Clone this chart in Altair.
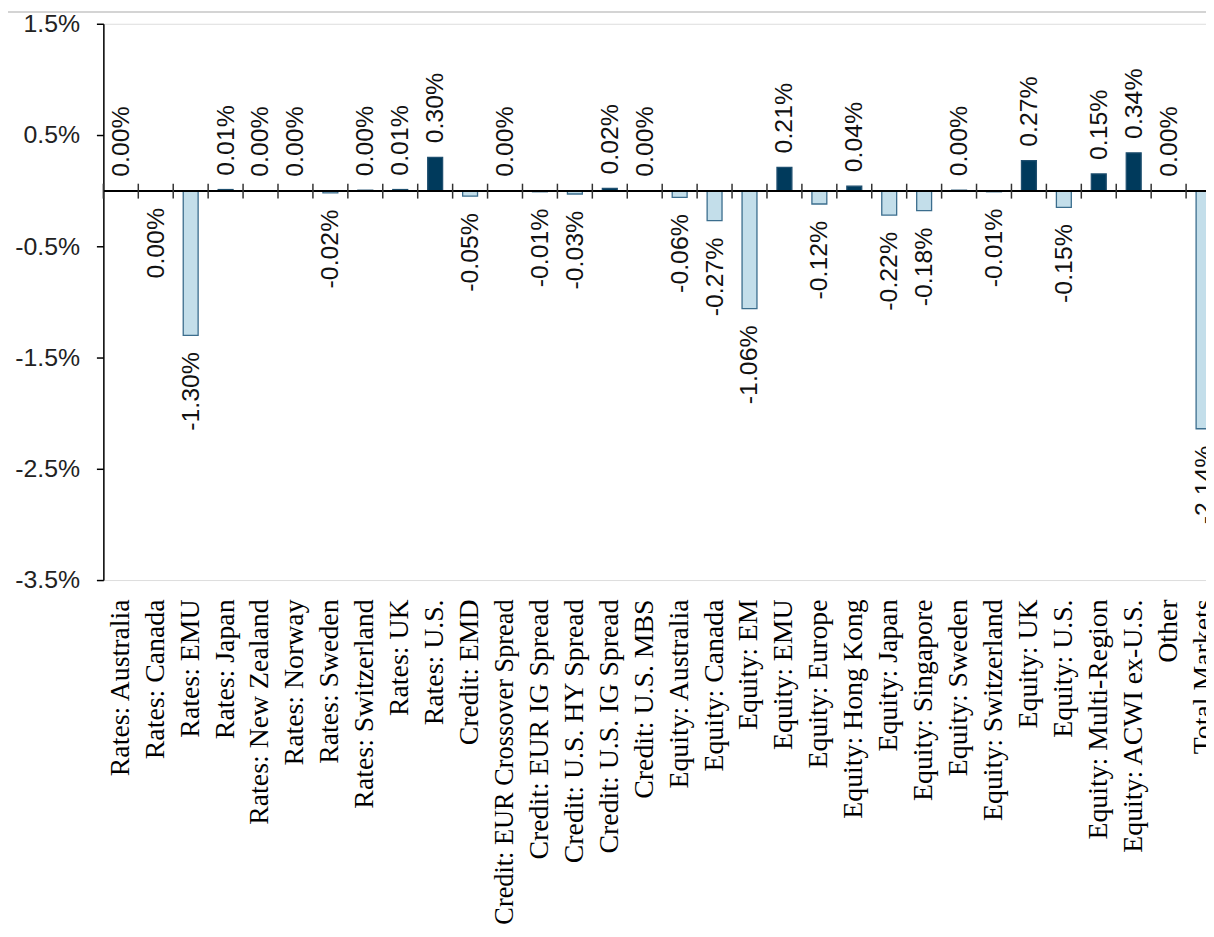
import altair as alt
import pandas as pd

categories = [
    "Rates: Australia", "Rates: Canada", "Rates: EMU", "Rates: Japan",
    "Rates: New Zealand", "Rates: Norway", "Rates: Sweden", "Rates: Switzerland",
    "Rates: UK", "Rates: U.S.", "Credit: EMD", "Credit: EUR Crossover Spread",
    "Credit: EUR IG Spread", "Credit: U.S. HY Spread", "Credit: U.S. IG Spread",
    "Credit: U.S. MBS", "Equity: Australia", "Equity: Canada", "Equity: EM",
    "Equity: EMU", "Equity: Europe", "Equity: Hong Kong", "Equity: Japan",
    "Equity: Singapore", "Equity: Sweden", "Equity: Switzerland", "Equity: UK",
    "Equity: U.S.", "Equity: Multi-Region", "Equity: ACWI ex-U.S.", "Other",
    "Total Markets",
]
# contribution, in percent
values = [
    0.000, -0.004, -1.30, 0.01,
    0.000, 0.000, -0.02, 0.004,
    0.01, 0.30, -0.05, 0.000,
    -0.01, -0.03, 0.02,
    0.000, -0.06, -0.27, -1.06,
    0.21, -0.12, 0.04, -0.22,
    -0.18, 0.004, -0.01, 0.27,
    -0.15, 0.15, 0.34, 0.000,
    -2.14,
]
y_ticks = [-3.5, -2.5, -1.5, -0.5, 0.5, 1.5]

df = pd.DataFrame({"cat": categories, "v": values})

POS = "#003a5c"
NEG = "#c3deea"
EDGE = "#3b6d8d"

N = len(categories)
STEP = 35.16
PAD_IN = 1 - 15.0 / STEP
x_scale = alt.Scale(range=[0, STEP * N], paddingInner=PAD_IN, paddingOuter=PAD_IN / 2)
x_axis = alt.Axis(
    orient="bottom", domain=False, ticks=False, labelAngle=-90,
    labelFont="Liberation Serif",
    labelFontSize={"condition": {"test": "length(datum.label) > 24", "value": 26.5}, "value": 28},
    labelColor="#000000",
    labelPadding=19, labelLimit=800, labelOverlap=False, title=None,
)
X = alt.X("cat:N", sort=None, scale=x_scale, axis=x_axis, title=None)

y_scale = alt.Scale(domain=[-3.5, 1.5], nice=False, zero=False)
y_axis = alt.Axis(
    values=y_ticks,
    labelExpr="replace(format(datum.value/100, '.1%'), '\u2212', '-')",
    grid=False, domain=True, domainColor="#000000", domainWidth=1.5,
    ticks=True, tickSize=7, tickColor="#000000", tickWidth=1.5,
    labelFont="Liberation Sans", labelFontSize=25, labelColor="#222222",
    labelPadding=17, title=None,
)
Y = alt.Y("v:Q", scale=y_scale, axis=y_axis, title=None)

base = alt.Chart(df).transform_calculate(
    lbl="replace(format(datum.v/100, '.2%'), '\u2212', '-')"
)

bars = base.mark_bar(strokeWidth=1.3).encode(
    x=X,
    y=Y,
    y2=alt.datum(0),
    fill=alt.condition(alt.datum.v >= 0, alt.value(POS), alt.value(NEG)),
    stroke=alt.condition(alt.datum.v >= 0, alt.value("#1f4f6f"), alt.value(EDGE)),
)

txt_pos = base.transform_filter(alt.datum.v >= 0).mark_text(
    angle=270, align="left", baseline="middle", dx=14,
    font="Liberation Sans", fontSize=25, color="#111111",
).encode(x=X, y=Y, text="lbl:N")

txt_neg = base.transform_filter(alt.datum.v < 0).mark_text(
    angle=270, align="right", baseline="middle", dx=-17,
    font="Liberation Sans", fontSize=25, color="#111111",
).encode(x=X, y=Y, text="lbl:N")

zero_line = alt.Chart(df).mark_rule(color="#000000", strokeWidth=1.5).encode(
    y=alt.datum(0, scale=y_scale)
)

cross_ticks = base.mark_rule(
    color="#333333", strokeWidth=1.5, xOffset=-STEP / 2, yOffset=-7, y2Offset=8
).encode(x=X, y=alt.datum(0), y2=alt.datum(0))

top_line = alt.Chart(df).mark_rule(color="#d4d4d4", strokeWidth=1.5).encode(
    x=alt.value(-96), x2=alt.value(1110), y=alt.value(-11.5)
)

chart = alt.layer(bars, zero_line, cross_ticks, txt_pos, txt_neg, top_line).properties(
    width=1110,
    height=560,
    autosize=alt.AutoSizeParams(type="none"),
    padding={"left": 96, "top": 12.7, "right": 0, "bottom": 380},
).configure_view(stroke=None).configure(background="#ffffff")

chart.save("out.html", embed_options={"renderer": "svg", "actions": False})
